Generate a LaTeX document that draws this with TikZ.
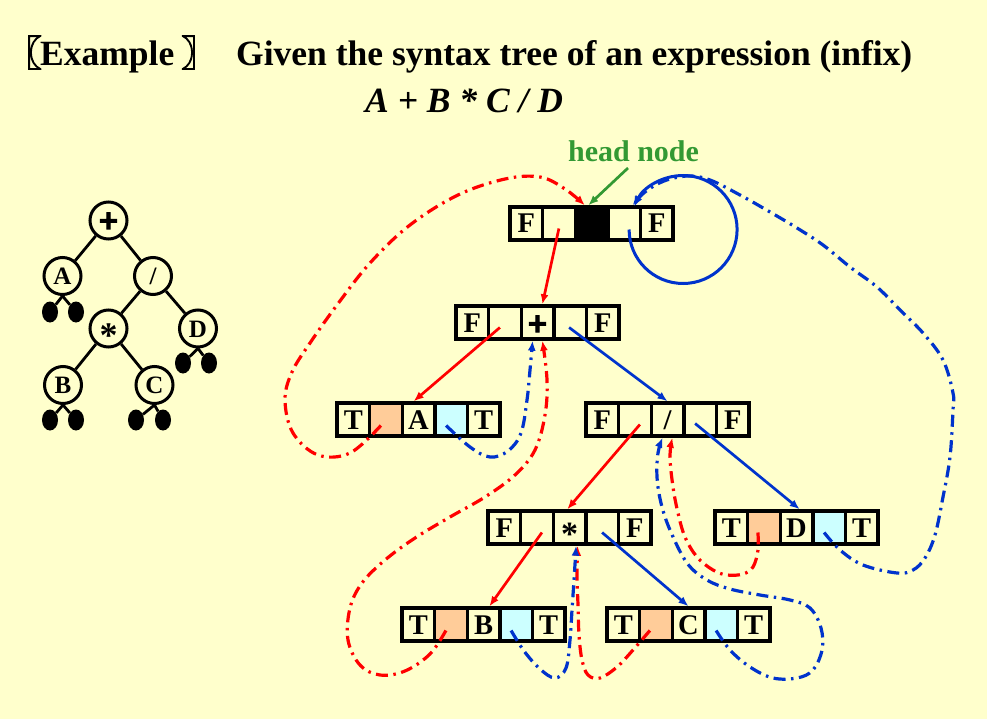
\documentclass[tikz,border=0pt]{standalone}
\usepackage{fontspec}
\setmainfont{Liberation Serif}
\newfontfamily\cjkfont[FakeBold=2.5]{Noto Sans CJK SC}
\newfontfamily\dejavu{DejaVu Sans}
\newfontfamily\plusfont[FakeBold=4]{DejaVu Sans}
\usetikzlibrary{arrows.meta,shapes.geometric,calc}
\definecolor{bgy}{HTML}{FFFFCC}
\definecolor{myred}{HTML}{FF0000}
\definecolor{myblue}{HTML}{0033CC}
\definecolor{mygreen}{HTML}{339933}
\definecolor{myorange}{HTML}{FFCC99}
\definecolor{mycyan}{HTML}{CCFFFF}
\newcommand\recbox[9]{%
  \node[cell,fill=bgy] (#1-1) at (#2+16.3,#3+16.5) {#4};
  \node[cell,fill=#7] (#1-2) at (#2+48.9,#3+16.5) {};
  \node[cell,fill=#9] (#1-3) at (#2+81.5,#3+16.5) {#5};
  \node[cell,fill=#8] (#1-4) at (#2+114.1,#3+16.5) {};
  \node[cell,fill=bgy] (#1-5) at (#2+146.7,#3+16.5) {#6};
}
\begin{document}
\begin{tikzpicture}[x=1pt,y=-1pt,
  cell/.style={draw=black,line width=3.4pt,minimum width=32.6pt,minimum height=33pt,inner sep=0pt,
    text height=19pt,text depth=0pt,font=\bfseries\fontsize{28.5}{28.5}\selectfont},
  tnode/.style={circle,draw=black,line width=3pt,minimum size=37pt,inner sep=0pt,fill=bgy,
    text height=17pt,text depth=0pt,font=\bfseries\fontsize{25}{25}\selectfont},
  leaf/.style={ellipse,fill=black,minimum width=16pt,minimum height=21pt,inner sep=0pt},
  tedge/.style={line width=2.8pt},
  tip/.style={-{Latex[length=10pt,width=8pt]}},
  solidred/.style={draw=myred,line width=2.7pt,tip},
  solidblue/.style={draw=myblue,line width=2.7pt,tip},
  dashdot/.style={line width=3.2pt,dash pattern=on 12pt off 5.5pt on 2.5pt off 5.5pt,tip},
  rthread/.style={draw=myred,dashdot},
  bthread/.style={draw=myblue,dashdot},
  greenarrow/.style={draw=mygreen,line width=2.7pt,tip}
]
\fill[bgy] (0,0) rectangle (987,719);
\useasboundingbox (0,0) rectangle (987,719);

% title
\node[anchor=base west,inner sep=0pt,font=\bfseries\fontsize{35.5}{40}\selectfont] (t1) at (6,66)
  {{\cjkfont 〖}\kern-1.5pt Example\kern7pt{\cjkfont 〗}};
\node[anchor=base west,inner sep=0pt,font=\bfseries\fontsize{35.5}{40}\selectfont] (t2) at (236,66)
  {Given the syntax tree of an expression (infix)};
\node[anchor=base west,inner sep=0pt,font=\bfseries\itshape\fontsize{35.5}{40}\selectfont] (t3) at (365,113)
  {A + B * C / D};

% left tree
\node[tnode] (tp) at (108.5,220.5) {\plusfont\fontsize{26}{26}\selectfont +};
\node[tnode] (tA) at (62.5,276) {A};
\node[tnode] (ts) at (153,276) {/};
\node[tnode] (tm) at (108.5,328.5) {\fontsize{36}{36}\selectfont\raisebox{-10.5pt}{*}};
\node[tnode] (tD) at (198,328.5) {D};
\node[tnode] (tB) at (63,385) {B};
\node[tnode] (tC) at (154.5,385) {C};
\node[leaf] (tA1) at (50,312) {};
\node[leaf] (tA2) at (76,312) {};
\node[leaf] (tD1) at (183,363) {};
\node[leaf] (tD2) at (209,363) {};
\node[leaf] (tB1) at (50,420) {};
\node[leaf] (tB2) at (76,420) {};
\node[leaf] (tC1) at (136,420) {};
\node[leaf] (tC2) at (163,420) {};
\draw[tedge] (tp) -- (tA);
\draw[tedge] (tp) -- (ts);
\draw[tedge] (ts) -- (tm);
\draw[tedge] (ts) -- (tD);
\draw[tedge] (tm) -- (tB);
\draw[tedge] (tm) -- (tC);
\draw[tedge] (tA.south) -- (tA1);
\draw[tedge] (tA.south) -- (tA2);
\draw[tedge] (tD.south) -- (tD1);
\draw[tedge] (tD.south) -- (tD2);
\draw[tedge] (tB.south) -- (tB1);
\draw[tedge] (tB.south) -- (tB2);
\draw[tedge] (tC.south) -- (tC1);
\draw[tedge] (tC.south) -- (tC2);

% threaded records
\recbox{h}{510}{207}{F}{}{F}{bgy}{bgy}{black}
\recbox{p}{456}{306}{F}{{\plusfont\fontsize{26}{26}\selectfont +}}{F}{bgy}{bgy}{bgy}
\recbox{a}{337}{403}{T}{A}{T}{myorange}{mycyan}{bgy}
\recbox{q}{586}{403}{F}{/}{F}{bgy}{bgy}{bgy}
\recbox{m}{488}{511}{F}{\fontsize{34}{34}\selectfont\raisebox{-8.5pt}{*}}{F}{bgy}{bgy}{bgy}
\recbox{d}{715}{511}{T}{D}{T}{myorange}{mycyan}{bgy}
\recbox{b}{402}{608}{T}{B}{T}{myorange}{mycyan}{bgy}
\recbox{c}{607}{608}{T}{C}{T}{myorange}{mycyan}{bgy}

% head label
\node[anchor=base,inner sep=0pt,text=mygreen,font=\bfseries\fontsize{30}{30}\selectfont] (hl) at (633.5,162) {head node};
\coordinate (g0) at (628,168);
\draw[greenarrow] (g0) -- (h-3.100);

% solid links
\draw[solidred] ($(h-2.center)+(0,5)$) -- (p-3.75);
\draw[solidred] ($(p-2.center)+(-5,5)$) -- (a-3.105);
\draw[solidblue] ($(p-4.center)+(-1,5)$) -- (q-3.north);
\draw[solidred] ($(q-2.center)+(5,5)$) -- (m-3.97);
\draw[solidblue] ($(q-4.center)+(-5,4)$) -- (d-3.80);
\draw[solidred] ($(m-2.center)+(5,5)$) -- (b-3.72);
\draw[solidblue] ($(m-4.center)+(0,5)$) -- (c-3.north);
\draw[solidblue,line width=3pt] ($(h-4.center)+(5,6)$) arc[start angle=180,end angle=-155,radius=54];

% threads
\draw[rthread] plot[smooth,tension=0.6] coordinates {($(a-2.center)+(-5,6)$) (350,453) (318,455) (293,433) (285,400) (292,372) (310,343) (337,305) (370,263) (410,225) (458,195) (505,179) (540,177) (565,189) (h-3.110)};
\draw[bthread] plot[smooth,tension=0.6] coordinates {($(a-4.center)+(-5,6)$) (470,447) (490,457) (508,451) (521,433) (527,400) (530,370) (p-3.-105)};
\draw[rthread] plot[smooth,tension=0.6] coordinates {($(b-2.center)+(-5,6)$) (430,654) (405,671) (380,675) (360,665) (348,640) (350,608) (362,583) (385,560) (415,538) (450,517) (485,497) (515,475) (535,450) (545,415) (547,380) (p-3.-75)};
\draw[rthread] plot[smooth,tension=0.6] coordinates {($(c-2.center)+(-6,6)$) (633,650) (617,667) (600,678) (588,675) (582,660) (579,635) (578,605) (577,575) (m-3.-66)};
\draw[bthread] plot[smooth,tension=0.6] coordinates {($(b-4.center)+(-5,6)$) (524,651) (540,669) (555,678) (566,668) (570,640) (572,610) (574,580) (m-3.-70)};
\draw[rthread] plot[smooth,tension=0.6] coordinates {($(d-2.center)+(-6,5)$) (758,550) (753,567) (743,574) (727,575) (713,570) (697,557) (685,537) (678,513) (673,487) (670,457) (q-3.-75)};
\draw[bthread] plot[smooth,tension=0.6] coordinates {($(c-4.center)+(-5,6)$) (730,650) (750,667) (773,678) (797,678) (813,670) (822,650) (821,628) (810,608) (790,600) (760,595) (730,589) (707,580) (687,563) (670,530) (661,503) (657,477) (658,453) (q-3.-105)};
\draw[bthread] plot[smooth,tension=0.6] coordinates {($(d-4.center)+(-5,5)$) (840,550) (863,565) (897,573) (913,570) (925,558) (935,535) (943,497) (950,457) (953,410) (953,393) (943,360) (923,333) (900,310) (877,287) (850,267) (823,245) (797,228) (770,212) (740,195) (710,180) (688,176) (664,181) (645,192) (h-4.65)};
\end{tikzpicture}
\end{document}
